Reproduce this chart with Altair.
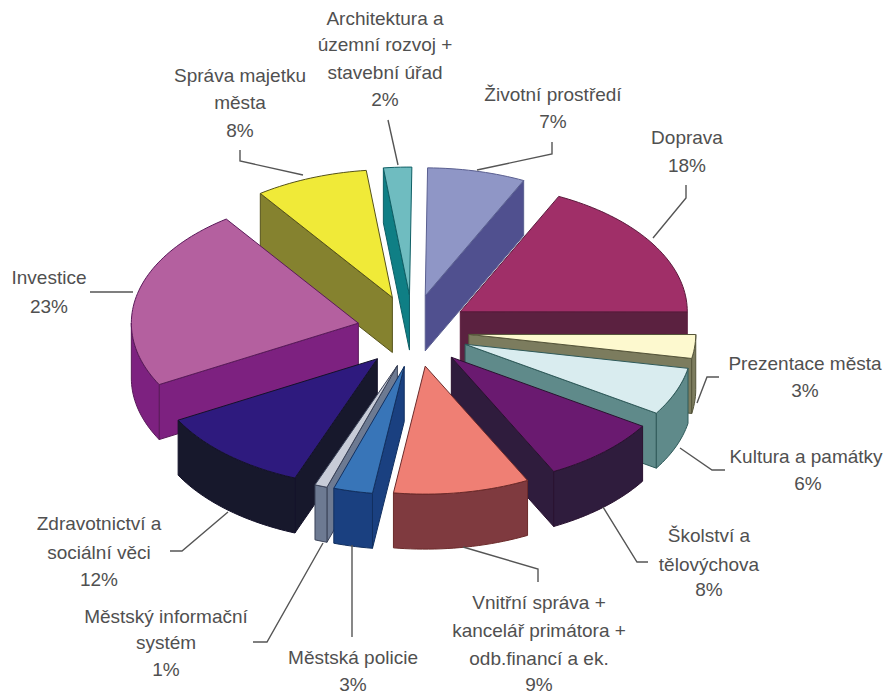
import math
import altair as alt

# --- chart values -----------------------------------------------------------
names = ["Životní prostředí", "Doprava", "Prezentace města", "Kultura a památky",
         "Školství a tělovýchova", "Vnitřní správa", "Městská policie",
         "Městský informační systém", "Zdravotnictví a sociální věci",
         "Investice", "Správa majetku města", "Architektura"]
shares = [7, 18, 3, 6, 8, 9, 3, 1, 12, 23, 8, 2]
top_colors = ["#8f96c6", "#a02f68", "#fdf9cf", "#d9ecef", "#6a1a70", "#ef7f74",
              "#3875b8", "#c8ccd8", "#2e1a7e", "#b4609f", "#f0ea38", "#6fbcc0"]
wall_colors = ["#50508f", "#5b2140", "#7c7c5e", "#5f8a8a", "#2f1c3d", "#7f3a3f",
               "#1a4080", "#6d7a92", "#17182c", "#7d2180", "#85822f", "#0f7f85"]
edge_colors = ["#5a5f90", "#5b1a3c", "#55553a", "#2f5a5a", "#2a1230", "#6b2a2a",
               "#123060", "#3a4258", "#14122a", "#5a1a5a", "#55521a", "#0f5f65"]
draw_order = [11, 0, 10, 1, 9, 2, 3, 4, 8, 7, 6, 5]

label_lines = [
    (553, 95, "Životní prostředí"), (553, 122, "7%"),
    (687, 138, "Doprava"), (687, 166, "18%"),
    (805, 364, "Prezentace města"), (805, 391, "3%"),
    (806, 457, "Kultura a památky"), (808, 484, "6%"),
    (709, 536, "Školství a"), (709, 565, "tělovýchova"), (709, 590, "8%"),
    (539, 603, "Vnitřní správa +"), (539, 631, "kancelář primátora +"),
    (539, 659, "odb.financí a ek."), (539, 685, "9%"),
    (353, 658, "Městská policie"), (353, 685, "3%"),
    (166, 617, "Městský informační"), (166, 643, "systém"), (166, 670, "1%"),
    (99, 524, "Zdravotnictví a"), (99, 553, "sociální věci"), (99, 580, "12%"),
    (49, 278, "Investice"), (49, 307, "23%"),
    (240, 76, "Správa majetku"), (240, 103, "města"), (240, 131, "8%"),
    (385, 19, "Architektura a"), (385, 45, "územní rozvoj +"),
    (385, 73, "stavební úřad"), (385, 100, "2%"),
]
leaders = [
    [(388, 120), (398, 165)],
    [(240, 150), (240, 161), (303, 175)],
    [(552, 142), (552, 154), (477, 170)],
    [(686, 185), (686, 198), (653, 238)],
    [(719, 377), (707, 377), (697, 403)],
    [(725, 470), (712, 470), (680, 448)],
    [(648, 562), (637, 562), (603, 507)],
    [(538, 582), (538, 569), (463, 547)],
    [(352, 637), (352, 545)],
    [(253, 642), (267, 642), (323, 543)],
    [(170, 551), (182, 551), (228, 512)],
    [(90, 292), (133, 292)],
]

# --- pie geometry, derived from the shares ----------------------------------
M = 8                    # page margin
CX, CY = 413, 331        # pie centre
RX, RY = 227, 128        # ellipse radii of the top face
EX, EY = 56, 36          # explosion distance
DEPTH = 55               # extrusion


def warp(t):
    d = math.degrees(t)
    front = 4.5 * math.exp(-((d - 180) / 32) ** 2)
    back = 0.6 * (math.exp(-(d / 60) ** 2) + math.exp(-((d - 360) / 60) ** 2))
    return t + math.radians(front + back)


def rim(ax, ay, t):
    w = warp(t)
    return (ax + RX * math.sin(w), ay - RY * math.cos(w))


def poly(points, fill, edge, name, part):
    ring = [[round(x - M, 2), round(y - M, 2)] for x, y in points]
    ring.append(ring[0])
    return {"type": "Feature", "geometry": {"type": "Polygon", "coordinates": [ring]},
            "properties": {"fill": fill, "edge": edge, "name": name, "part": part}}


total = sum(shares)
bounds = [0]
for s in shares:
    bounds.append(bounds[-1] + s)

features = []
for i in draw_order:
    a = 2 * math.pi * bounds[i] / total
    b = 2 * math.pi * bounds[i + 1] / total
    mid = (a + b) / 2
    ax = CX + EX * math.sin(mid)
    ay = CY - EY * math.cos(mid)
    n = max(4, int((b - a) * 40))
    ts = [a + (b - a) * k / n for k in range(n + 1)]
    arc = [rim(ax, ay, t) for t in ts]
    wall, edge = wall_colors[i], edge_colors[i]

    def down(p):
        return (p[0], p[1] + DEPTH)

    if math.sin(a) < 0:
        p = rim(ax, ay, a)
        features.append(poly([(ax, ay), p, down(p), down((ax, ay))], wall, edge, names[i], "start"))
    if math.sin(b) > 0:
        p = rim(ax, ay, b)
        features.append(poly([(ax, ay), p, down(p), down((ax, ay))], wall, edge, names[i], "end"))
    lo, hi = max(a, math.pi / 2), min(b, 3 * math.pi / 2)
    if hi > lo:
        m = max(3, int((hi - lo) * 40))
        seg = [rim(ax, ay, lo + (hi - lo) * k / m) for k in range(m + 1)]
        features.append(poly(seg + [down(p) for p in reversed(seg)], wall, edge, names[i], "rim"))
    features.append(poly([(ax, ay)] + arc, top_colors[i], edge, names[i], "top"))

# --- layers -----------------------------------------------------------------
W, H = 876, 686
PX = alt.Scale(domain=[0, W], range=[0, W])
PY = alt.Scale(domain=[0, H], range=[0, H])

leader_rows = [{"id": k, "o": j, "x": x - M, "y": y - M}
               for k, line in enumerate(leaders) for j, (x, y) in enumerate(line)]
leader_layer = alt.Chart(alt.Data(values=leader_rows)).mark_line(
    color="#555555", strokeWidth=1.4
).encode(
    x=alt.X("x:Q", scale=PX, axis=None),
    y=alt.Y("y:Q", scale=PY, axis=None),
    detail="id:N",
    order="o:Q",
)

pie_layer = alt.Chart(alt.Data(values=features)).mark_geoshape(strokeWidth=1).encode(
    fill=alt.Fill("properties.fill:N", scale=None),
    stroke=alt.Stroke("properties.edge:N", scale=None),
).project(type="identity", scale=1, translate=[0, 0])

text_rows = [{"x": x - M, "y": y - M, "t": t} for x, y, t in label_lines]
text_layer = alt.Chart(alt.Data(values=text_rows)).mark_text(
    font="Liberation Sans", fontSize=19, color="#505050", align="center", baseline="middle"
).encode(
    x=alt.X("x:Q", scale=PX, axis=None),
    y=alt.Y("y:Q", scale=PY, axis=None),
    text="t:N",
)

chart = alt.layer(pie_layer, leader_layer, text_layer).properties(
    width=W, height=H, padding=0, autosize=alt.AutoSizeParams(type="none"),
    background="white"
).configure_view(stroke=None)

chart.save("out.html", embed_options={"renderer": "svg", "actions": False})
